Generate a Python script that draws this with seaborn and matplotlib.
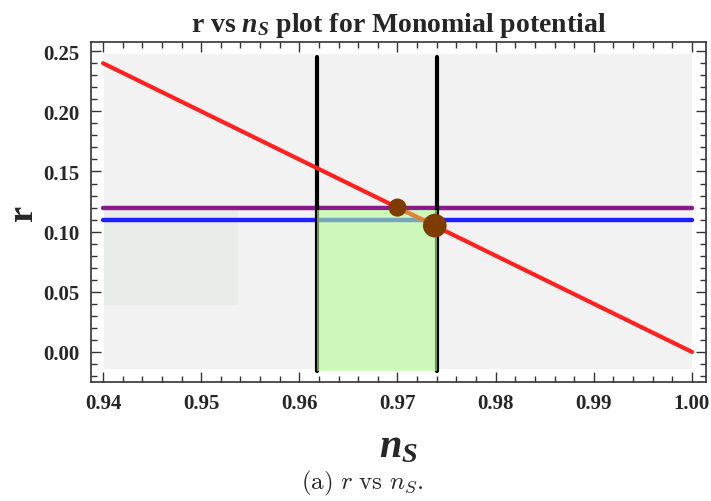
import numpy as np
import pandas as pd
import seaborn as sns
import matplotlib.pyplot as plt
from matplotlib.ticker import MultipleLocator

# data
ns_line = [0.94, 1.00]          # r vs n_S straight line
r_line = [0.24, 0.00]
ns_pts = [0.9700, 0.9738]       # intersection points
r_pts = [0.1200, 0.1050]
pt_names = ['upper', 'lower']
ns_bounds = [0.9618, 0.9740]    # vertical black lines
r_purple = 0.12                 # horizontal limits
r_blue = 0.11
bg_ns = [0.9401, 1.0]           # light grey background box
bg_r = [-0.014, 0.248]
box_ns = [0.9401, 0.9538]       # pale green-grey box
box_r = [0.039, 0.118]
green_r = [-0.016, 0.118]       # allowed green band

sns.set_style("ticks")
plt.rcParams['font.family'] = ['Liberation Serif', 'DejaVu Serif']
plt.rcParams['mathtext.fontset'] = 'custom'
plt.rcParams['mathtext.rm'] = 'Liberation Serif:bold'
plt.rcParams['mathtext.it'] = 'Liberation Serif:italic:bold'
plt.rcParams['mathtext.bf'] = 'Liberation Serif:bold'

fig = plt.figure(figsize=(7.11, 5.02), dpi=100)
ax = fig.add_axes([0.128, 0.237, 0.865, 0.677])

# background boxes
ax.fill_between(bg_ns, bg_r[0], bg_r[1], color='#f2f2f2', lw=0, zorder=0)
ax.fill_between(box_ns, box_r[0], box_r[1], color='#e9eeea', lw=0, zorder=0.5)

# horizontal lines
hl = pd.DataFrame({'ns': ns_line * 2, 'r': [r_purple] * 2 + [r_blue] * 2,
                   'line': ['purple'] * 2 + ['blue'] * 2})
sns.lineplot(data=hl, x='ns', y='r', hue='line',
             palette={'purple': '#8b1a8b', 'blue': '#2020ff'},
             lw=3.2, legend=False, ax=ax, zorder=2)

# vertical black lines
for x in ns_bounds:
    sns.lineplot(x=[x, x], y=[bg_r[0] - 0.002, bg_r[1] - 0.003], color='black',
                 lw=3, estimator=None, sort=False, ax=ax, zorder=2)

# red line
sns.lineplot(x=ns_line, y=r_line, color='#ff2020', lw=3, ax=ax, zorder=3)

# green allowed band drawn on top, translucent
ax.fill_between(ns_bounds, green_r[0], green_r[1], color='#b3ff94',
                alpha=0.6, lw=0, zorder=4)

# orange segment between the points
sns.lineplot(x=ns_pts, y=r_pts, color='#e0803a', lw=3, ax=ax, zorder=5)

# points
pts = pd.DataFrame({'ns': ns_pts, 'r': r_pts, 'k': pt_names})
sns.scatterplot(data=pts, x='ns', y='r', size='k',
                sizes={'upper': 170, 'lower': 290},
                color='#7f3c00', edgecolor='none', legend=False, ax=ax, zorder=6)

ax.set_xlim(0.93878, 1.00143)
ax.set_ylim(-0.025, 0.2575)
ax.xaxis.set_major_locator(MultipleLocator(0.01))
ax.xaxis.set_minor_locator(MultipleLocator(0.002))
ax.yaxis.set_major_locator(MultipleLocator(0.05))
ax.yaxis.set_minor_locator(MultipleLocator(0.01))
ax.xaxis.set_major_formatter(plt.FormatStrFormatter('%.2f'))
ax.yaxis.set_major_formatter(plt.FormatStrFormatter('%.2f'))
ax.tick_params(which='both', direction='in', top=True, right=True, width=1, color='#333333')
ax.tick_params(which='major', length=7, labelsize=15, pad=8)
ax.tick_params(which='minor', length=4)
for lab in ax.get_xticklabels() + ax.get_yticklabels():
    lab.set_fontweight('bold')
for sp in ax.spines.values():
    sp.set_linewidth(1.2)
    sp.set_color('#333333')

ax.set_title(r'r vs $n_S$ plot for Monomial potential', fontsize=20,
             fontweight='bold', pad=8)
ax.set_xlabel(r'$n_S$', fontsize=29, va='center')
ax.xaxis.set_label_coords(0.5, -0.19)
ax.set_ylabel('r', fontsize=26, fontweight='bold', rotation=90, va='center')
ax.yaxis.set_label_coords(-0.11, 0.5)

fig.text(0.509, 0.036, r'$\mathrm{(a)}\ r\ \mathrm{vs}\ n_S.$', ha='center',
         va='center', fontsize=18, math_fontfamily='cm')

fig.savefig('out.png', dpi=100)
